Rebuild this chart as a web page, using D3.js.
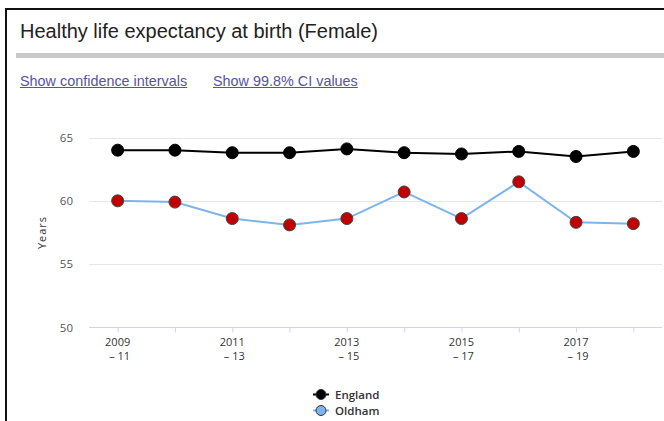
<!DOCTYPE html>
<html>
<head>
<meta charset="utf-8">
<script src="https://cdn.jsdelivr.net/npm/d3@7"></script>
<style>
  body { margin: 0; background: white; }
  #frame {
    position: absolute; left: 5px; top: 8px; width: 670px; height: 430px;
    border-left: 2px solid #111; border-top: 2px solid #111;
  }
  #title {
    position: absolute; left: 20px; top: 20px;
    font-family: "Liberation Sans", Arial, sans-serif; font-size: 20px; color: #222;
  }
  #bar { position: absolute; left: 16px; top: 53px; width: 660px; height: 5px; background: #c8c8c8; }
  .link {
    position: absolute; top: 73px;
    font-family: "Liberation Sans", Arial, sans-serif; font-size: 14.4px;
    color: #55559d; text-decoration: underline;
  }
  svg { position: absolute; left: 0; top: 0; }
</style>
</head>
<body>
<div id="frame"></div>
<div id="title">Healthy life expectancy at birth (Female)</div>
<div id="bar"></div>
<div class="link" style="left:20px">Show confidence intervals</div>
<div class="link" style="left:213px">Show 99.8% CI values</div>
<svg id="chart" width="664" height="421"></svg>
<script>
// periods (start year), labelled every other one
const periods = ["2009", "2010", "2011", "2012", "2013", "2014", "2015", "2016", "2017", "2018"];
const periodEnds = ["11", "12", "13", "14", "15", "16", "17", "18", "19", "20"];
const england = [64.0, 64.0, 63.8, 63.8, 64.1, 63.8, 63.7, 63.9, 63.5, 63.9];
const oldham = [60.0, 59.9, 58.6, 58.1, 58.6, 60.7, 58.6, 61.5, 58.3, 58.2];
const yTicks = [50, 55, 60, 65];

let svg = d3.select("#chart");
let font = "'Open Sans', sans-serif";

let x = d3.scalePoint().domain(periods).range([89, 662]).padding(0.5);
let y = d3.scaleLinear().domain([50, 65]).range([327.5, 137.5]);

// gridlines
svg.append("g").selectAll("line").data(yTicks.slice(1)).enter().append("line")
    .attr("x1", 89).attr("x2", 662)
    .attr("y1", d => Math.round(y(d)) + 0.5).attr("y2", d => Math.round(y(d)) + 0.5)
    .style("stroke", "#e6e6e6");

// y labels
svg.append("g").selectAll("text").data(yTicks).enter().append("text")
    .attr("x", 73).attr("y", d => y(d) + 4)
    .attr("text-anchor", "end")
    .style("font-family", font).style("font-size", "11.5px").style("fill", "#555")
    .text(d => d);

svg.append("text")
    .attr("transform", "translate(46," + y(57.5) + ") rotate(-90)")
    .attr("text-anchor", "middle")
    .style("font-family", font).style("font-size", "11px").style("fill", "#333")
    .style("letter-spacing", "1px")
    .text("Years");

// x axis
let xAxis = d3.axisBottom(x).tickSize(5).tickFormat("");
let gx = svg.append("g").attr("transform", "translate(0,327.5)").call(xAxis);
gx.select(".domain").attr("d", "M89,0H662").style("stroke", "#ccd6eb");
gx.selectAll(".tick line").style("stroke", "#ccd6eb");

let labels = svg.append("g").selectAll("text")
    .data(periods.filter((d, i) => i % 2 === 0)).enter().append("text")
    .attr("x", d => x(d))
    .attr("y", 346)
    .attr("text-anchor", "middle")
    .style("font-family", font).style("font-size", "11px").style("fill", "#333");
labels.append("tspan").attr("x", d => x(d)).text(d => d);
labels.append("tspan").attr("x", d => x(d) + 2).attr("dy", 14)
    .text(d => "\u2013 " + periodEnds[periods.indexOf(d)]);

// lines
let line = d3.line().x((d, i) => x(periods[i])).y(d => y(d));

svg.append("path").datum(oldham).attr("d", line)
    .style("fill", "none").style("stroke", "#7cb5ec").style("stroke-width", 2);
svg.append("path").datum(england).attr("d", line)
    .style("fill", "none").style("stroke", "#000").style("stroke-width", 2);

svg.append("g").selectAll("circle").data(oldham).enter().append("circle")
    .attr("cx", (d, i) => x(periods[i])).attr("cy", d => y(d)).attr("r", 6)
    .style("fill", "#c00000").style("stroke", "#444").style("stroke-width", 1);
svg.append("g").selectAll("circle").data(england).enter().append("circle")
    .attr("cx", (d, i) => x(periods[i])).attr("cy", d => y(d)).attr("r", 6)
    .style("fill", "#000").style("stroke", "#000").style("stroke-width", 1);

// legend
const legendNames = ["England", "Oldham"];
const legendLine = ["#000", "#7cb5ec"];
const legendFill = ["#000", "#7cb5ec"];
let leg = svg.append("g").selectAll("g").data(legendNames).enter().append("g")
    .attr("transform", (d, i) => "translate(313," + (394.5 + i * 16) + ")");
leg.append("line").attr("x1", 0).attr("x2", 16)
    .style("stroke", (d, i) => legendLine[i]).style("stroke-width", 2);
leg.append("circle").attr("cx", 8).attr("r", 5)
    .style("fill", (d, i) => legendFill[i]).style("stroke", "#333");
leg.append("text").attr("x", 22).attr("y", 4)
    .style("font-family", font).style("font-size", "11.5px").style("font-weight", "600")
    .style("fill", "#333")
    .text(d => d);
</script>
</body>
</html>
